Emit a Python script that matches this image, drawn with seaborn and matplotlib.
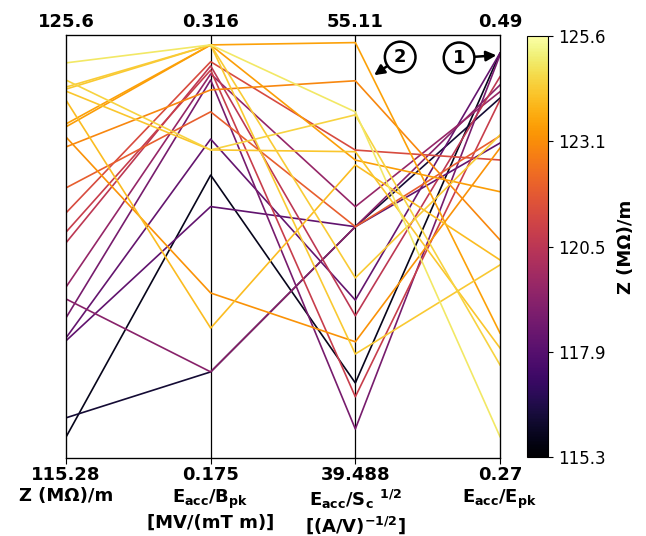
import numpy as np
import pandas as pd
import matplotlib
matplotlib.use("Agg")
import matplotlib.pyplot as plt
import seaborn as sns
from matplotlib.colors import Normalize
from matplotlib.cm import ScalarMappable

# ---- data (one entry per design) ----
z_impedance = [124.92, 124.50, 124.23, 124.33, 124.28, 124.01, 123.43, 123.36, 123.11, 122.87,
               121.87, 121.26, 120.79, 120.53, 119.45, 119.16, 118.70, 118.21, 118.14, 116.26, 115.79]
eacc_bpk = [0.3127, 0.2777, 0.2777, 0.3127, 0.3127, 0.2183, 0.3127, 0.3127, 0.2300, 0.2977,
            0.2904, 0.3071, 0.3043, 0.3057, 0.3030, 0.2037, 0.3010, 0.2813, 0.2588, 0.2037, 0.2693]
eacc_sc = [52.27, 52.16, 50.80, 46.14, 43.33, 50.31, 54.83, 50.49, 43.78, 53.42,
           48.03, 50.86, 41.75, 44.74, 48.77, 48.03, 40.56, 45.32, 48.03, 48.03, 42.26]
eacc_epk = [0.2811, 0.3184, 0.3272, 0.4380, 0.3704, 0.3730, 0.3350, 0.4085, 0.4312, 0.3834,
            0.4375, 0.4250, 0.4562, 0.4683, 0.4605, 0.4640, 0.4796, 0.4806, 0.4338, 0.4572, 0.4806]

axis_top = [125.6, 0.316, 55.11, 0.49]
axis_bottom = [115.28, 0.175, 39.488, 0.27]
top_labels = ["125.6", "0.316", "55.11", "0.49"]
bottom_labels = ["115.28", "0.175", "39.488", "0.27"]
axis_names = ["Z (MΩ)/m",
              "$E_{acc}/B_{pk}$\n[MV/(mT m)]",
              "$E_{acc}/S_c$ $^{1/2}$\n$[(A/V)^{-1/2}]$",
              "$E_{acc}/E_{pk}$"]
cbar_min, cbar_max = 115.3, 125.6
cbar_ticklabels = ["115.3", "117.9", "120.5", "123.1", "125.6"]

plt.rcParams["mathtext.default"] = "bf"
plt.rcParams["font.family"] = ["DejaVu Sans"]

vals = np.column_stack([z_impedance, eacc_bpk, eacc_sc, eacc_epk])
lo = np.array(axis_bottom)
hi = np.array(axis_top)
normed = (vals - lo) / (hi - lo)
rows = []
for i in range(vals.shape[0]):
    for j in range(4):
        rows.append({"id": i, "axis": j, "value": normed[i, j], "Z": z_impedance[i]})
df = pd.DataFrame(rows)

fig = plt.figure(figsize=(6.46, 5.36), dpi=100)
ax = fig.add_axes([66 / 646, 78 / 536, 434 / 646, 423 / 536])
norm = Normalize(cbar_min, cbar_max)

sns.lineplot(data=df, x="axis", y="value", hue="Z", units="id", estimator=None,
             palette="inferno", hue_norm=norm, legend=False, sort=False,
             linewidth=1.2, ax=ax)

ax.set_xlim(0, 3)
ax.set_ylim(0, 1)
ax.set_yticks([])
ax.set_xlabel("")
ax.set_ylabel("")
for xv in (1, 2):
    ax.axvline(xv, color="black", lw=0.9, zorder=0)
for s in ax.spines.values():
    s.set_color("black")
    s.set_linewidth(0.9)
ax.set_xticks(range(4))
ax.set_xticklabels([f"{b}\n{n}" for b, n in zip(bottom_labels, axis_names)],
                   fontweight="bold", fontsize=13)
ax.tick_params(axis="x", length=4, pad=2)

ax2 = ax.twiny()
ax2.set_xlim(0, 3)
ax2.set_xticks(range(4))
ax2.set_xticklabels(top_labels, fontweight="bold", fontsize=13)
ax2.tick_params(axis="x", length=0, pad=3)

# annotations
circ = dict(boxstyle="circle,pad=0.35", fc="white", ec="black", lw=1.8)
arr = dict(arrowstyle="-|>", color="black", lw=1.8, mutation_scale=15, shrinkA=0, shrinkB=0)
ax.annotate("1", xy=(2.975, 0.952), xytext=(2.717, 0.946), fontsize=13, fontweight="bold",
            ha="center", va="center", bbox=circ, arrowprops=arr)
ax.annotate("2", xy=(2.13, 0.905), xytext=(2.31, 0.948), fontsize=13, fontweight="bold",
            ha="center", va="center", bbox=circ, arrowprops=arr)

cax = fig.add_axes([527 / 646, 79 / 536, 21 / 646, 421 / 536])
sm = ScalarMappable(norm=norm, cmap="inferno")
cb = fig.colorbar(sm, cax=cax)
cb.set_ticks(np.linspace(cbar_min, cbar_max, len(cbar_ticklabels)))
cb.set_ticklabels(cbar_ticklabels)
cb.ax.tick_params(labelsize=12)
cb.outline.set_linewidth(0.8)
cb.set_label("Z (MΩ)/m", fontweight="bold", fontsize=13, labelpad=8)

fig.savefig("out.png", dpi=100)
